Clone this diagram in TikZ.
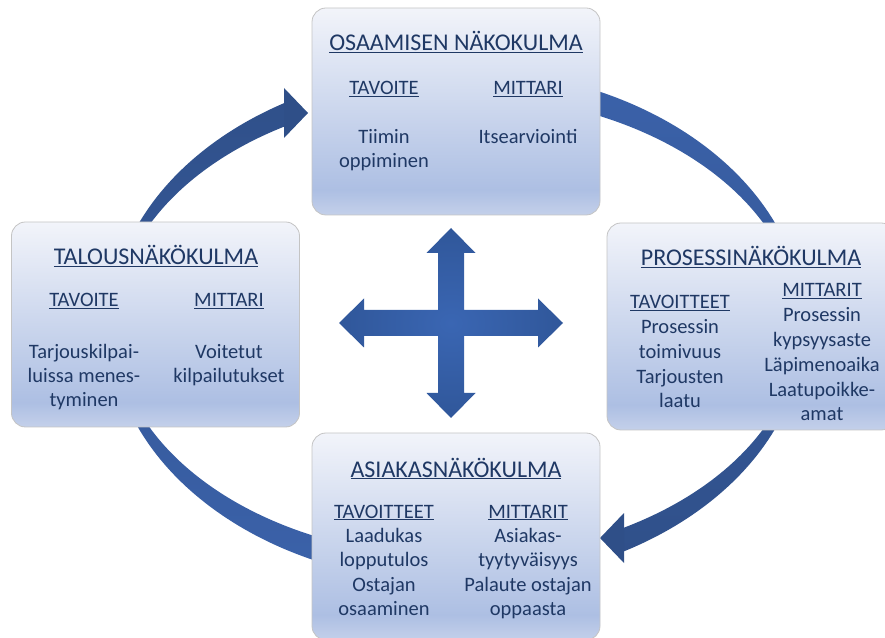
\documentclass[tikz,border=0pt]{standalone}
\usepackage{fontspec}
\setmainfont{Carlito}
\definecolor{txtblue}{HTML}{1F3864}
\definecolor{boxtop}{HTML}{F2F4FA}
\definecolor{boxdeep}{HTML}{ADBFE3}
\definecolor{boxfoot}{HTML}{C4D0EA}
\definecolor{boxline}{HTML}{C4C4C4}
\definecolor{arclight}{HTML}{3B62AA}
\definecolor{arcdark}{HTML}{2F4F88}
\definecolor{crosslight}{HTML}{3A66B3}
\definecolor{crossdark}{HTML}{30579A}
\pgfdeclareverticalshading{boxshade}{100bp}{color(0bp)=(boxfoot); color(25bp)=(boxfoot); color(31bp)=(boxdeep); color(75bp)=(boxtop); color(100bp)=(boxtop)}
\newcommand{\boxtitlefont}{\fontsize{24}{28}\selectfont}
\newcommand{\boxbodyfont}{\fontsize{20.5}{24}\selectfont}

\begin{document}
\begin{tikzpicture}[x=1pt, y=1pt]
	\tikzstyle{persp}=[rectangle, rounded corners=14pt, draw=boxline, line width=0.8pt, shade, shading=boxshade, minimum width=288pt, minimum height=207pt]
	\tikzstyle{title}=[anchor=base, inner sep=0pt, text=txtblue, font=\boxtitlefont]
	\tikzstyle{txt}=[anchor=base, inner sep=0pt, text=txtblue, font=\boxbodyfont]
	\useasboundingbox (0,0) rectangle (885,637);
	\clip (0,0) rectangle (885,637);
	\coordinate (ring) at (457,311);
	%---------------------%
	% Right arc: Osaaminen -> Prosessi -> Asiakas
	\begin{scope}
		\clip (ring) -- (457,700) -- (900,700) -- (900,-50) -- (624,-50) -- (624,311) -- cycle;
		\shade[top color=arclight, bottom color=arcdark] (ring) ++(347,0)
			arc[start angle=0, end angle=360, x radius=347pt, y radius=257pt] -- ++(-5,0)
			arc[start angle=360, end angle=0, x radius=342pt, y radius=231pt] -- cycle;
	\end{scope}
	\fill[arcdark] (624,124) -- (600,99) -- (624,74) -- cycle;
	% Left arc: Asiakas -> Talous -> Osaaminen
	\begin{scope}
		\clip (ring) -- (457,-50) -- (-50,-50) -- (-50,700) -- (284,700) -- (284,311) -- cycle;
		\shade[top color=arcdark, bottom color=arclight] (ring) ++(347,0)
			arc[start angle=0, end angle=360, x radius=347pt, y radius=257pt] -- ++(-5,0)
			arc[start angle=360, end angle=0, x radius=342pt, y radius=231pt] -- cycle;
	\end{scope}
	\fill[arcdark] (284,549) -- (308,524) -- (284,499) -- cycle;
	%---------------------%
	% Osaaminen
	\node at (456,525.5) [persp] (osaaminen) {};
	\node at (456,586) [title] (osaaminen_title) {\underline{OSAAMISEN NÄKOKULMA}};
	\node at (384,542) [txt] (osaaminen_tav) {\underline{TAVOITE}};
	\node at (528,542) [txt] (osaaminen_mit) {\underline{MITTARI}};
	\foreach \t [count=\i from 0] in {Tiimin, oppiminen}
		\node at (384, 493-\i*24) [txt] (osaaminen_tav_\i) {\t};
	\node at (528,493) [txt] (osaaminen_mit_0) {Itsearviointi};
	% Talous
	\node at (155.5,312.5) [persp, minimum height=205pt] (talous) {};
	\node at (156,372) [title] (talous_title) {\underline{TALOUSNÄKÖKULMA}};
	\node at (84,330) [txt] (talous_tav) {\underline{TAVOITE}};
	\node at (229,330) [txt] (talous_mit) {\underline{MITTARI}};
	\foreach \t [count=\i from 0] in {Tarjouskilpai-, luissa menes-, tyminen}
		\node at (84, 278-\i*24) [txt] (talous_tav_\i) {\t};
	\foreach \t [count=\i from 0] in {Voitetut, kilpailutukset}
		\node at (229, 278-\i*24) [txt] (talous_mit_\i) {\t};
	% Prosessi
	\node at (751,310.5) [persp] (prosessi) {};
	\node at (751,371) [title] (prosessi_title) {\underline{PROSESSINÄKÖKULMA}};
	\node at (680,328) [txt] (prosessi_tav) {\underline{TAVOITTEET}};
	\foreach \t [count=\i from 1] in {Prosessin, toimivuus, Tarjousten, laatu}
		\node at (680, 328-\i*24.7) [txt] (prosessi_tav_\i) {\t};
	\node at (822,340) [txt] (prosessi_mit) {\underline{MITTARIT}};
	\foreach \t [count=\i from 1] in {Prosessin, kypsyysaste, Läpimenoaika, Laatupoikke-, amat}
		\node at (822, 340-\i*24.8) [txt] (prosessi_mit_\i) {\t};
	% Asiakas
	\node at (456,100.5) [persp] (asiakas) {};
	\node at (456,160) [title] (asiakas_title) {\underline{ASIAKASNÄKÖKULMA}};
	\node at (384,119) [txt] (asiakas_tav) {\underline{TAVOITTEET}};
	\node at (528,119) [txt] (asiakas_mit) {\underline{MITTARIT}};
	\foreach \t [count=\i from 0] in {Laadukas, lopputulos, Ostajan, osaaminen}
		\node at (384, 95-\i*24.5) [txt] (asiakas_tav_\i) {\t};
	\foreach \t [count=\i from 0] in {Asiakas-, tyytyväisyys, Palaute ostajan, oppaasta}
		\node at (528, 95-\i*24.5) [txt] (asiakas_mit_\i) {\t};
	%---------------------%
	% Centre cross
	\shade[shift={(451,314)}, inner color=crosslight, outer color=crossdark]
		(13,13) -- (87,13) -- (87,24.5) -- (112,0) -- (87,-24.5) -- (87,-13)
		-- (13,-13) -- (13,-70) -- (24.5,-70) -- (0,-95) -- (-24.5,-70) -- (-13,-70)
		-- (-13,-13) -- (-87,-13) -- (-87,-24.5) -- (-112,0) -- (-87,24.5) -- (-87,13)
		-- (-13,13) -- (-13,70) -- (-24.5,70) -- (0,95) -- (24.5,70) -- (13,70) -- cycle;
	%---------------------%
\end{tikzpicture}
\end{document}
